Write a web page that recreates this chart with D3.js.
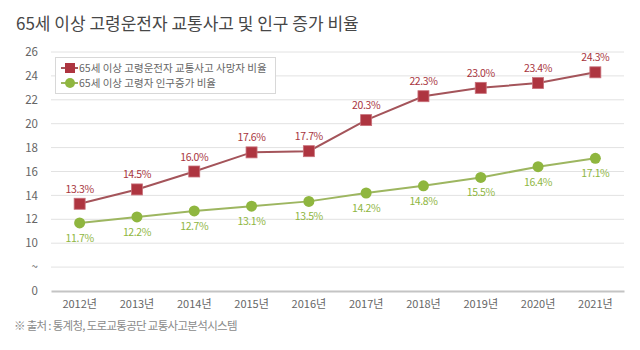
<!DOCTYPE html>
<html>
<head>
<meta charset="utf-8">
<script src="https://cdn.jsdelivr.net/npm/d3@7"></script>
<style>
	body { margin: 0; background: #fff; }
	text { font-family: "Noto Sans CJK KR", "Noto Sans", sans-serif; }
</style>
</head>
<body>
<svg id="chart" width="640" height="350"></svg>
<script>
// data
var years = ["2012년", "2013년", "2014년", "2015년", "2016년", "2017년", "2018년", "2019년", "2020년", "2021년"];
var deathRate = [13.3, 14.5, 16.0, 17.6, 17.7, 20.3, 22.3, 23.0, 23.4, 24.3];
var popRate = [11.7, 12.2, 12.7, 13.1, 13.5, 14.2, 14.8, 15.5, 16.4, 17.1];
var seriesNames = ["65세 이상 고령운전자 교통사고 사망자 비율", "65세 이상 고령자 인구증가 비율"];
// broken axis: 8 is drawn as "~" and 6 as "0"
var yTicks = [6, 8, 10, 12, 14, 16, 18, 20, 22, 24, 26];
var yTickLabels = { 6: "0", 8: "~" };

var titleText = "65세 이상 고령운전자 교통사고 및 인구 증가 비율";
var sourceText = "※ 출처 : 통계청, 도로교통공단 교통사고분석시스템";

var redMark = "#ae3540", redLine = "#a4545a";
var greenMark = "#8fb63f", greenLine = "#9db660";

var margin = { top: 52, right: 16, bottom: 59, left: 51 };
var width = 640, height = 350;

var svg = d3.select("#chart");

var xScale = d3.scaleBand().domain(years).range([margin.left, width - margin.right]);
var yScale = d3.scaleLinear().domain([6, 26]).range([height - margin.bottom, margin.top]);
var cx = function(d, i) { return xScale(years[i]) + xScale.bandwidth() / 2; };

svg.append("text")
	.attr("x", 16).attr("y", 30)
	.attr("font-size", 17).attr("font-weight", 400)
	.attr("fill", "#474747")
	.text(titleText);

// grid lines
svg.append("g").selectAll("line")
	.data(yTicks.filter(function(d) { return d !== 6; }))
	.enter().append("line")
	.attr("x1", margin.left).attr("x2", width - margin.right)
	.attr("y1", function(d) { return yScale(d); })
	.attr("y2", function(d) { return yScale(d); })
	.attr("stroke", "#e2e2e2").attr("stroke-width", 1);

var yAxis = d3.axisLeft(yScale)
	.tickValues(yTicks)
	.tickSize(0).tickPadding(13)
	.tickFormat(function(d) { return yTickLabels[d] !== undefined ? yTickLabels[d] : d; });
var yAxisLine = svg.append("g")
	.attr("transform", "translate(" + margin.left + ",0)")
	.call(yAxis);
yAxisLine.select(".domain").remove();
yAxisLine.selectAll("text").attr("font-size", 11.5).attr("fill", "#666");

var xAxis = d3.axisBottom(xScale).tickSize(0).tickPadding(9);
var xAxisLine = svg.append("g")
	.attr("transform", "translate(0," + yScale(6) + ")")
	.call(xAxis);
xAxisLine.select(".domain").attr("stroke", "#c4c4c4").attr("stroke-width", 2);
xAxisLine.selectAll("text").attr("font-size", 11).attr("fill", "#666");

var line = d3.line()
	.x(cx)
	.y(function(d) { return yScale(d); });

// population series
svg.append("path").datum(popRate)
	.attr("d", line).attr("fill", "none")
	.attr("stroke", greenLine).attr("stroke-width", 2);
svg.append("g").selectAll("circle")
	.data(popRate).enter().append("circle")
	.attr("cx", cx).attr("cy", function(d) { return yScale(d); })
	.attr("r", 5.5).attr("fill", greenMark);
svg.append("g").selectAll("text")
	.data(popRate).enter().append("text")
	.attr("x", cx).attr("y", function(d) { return yScale(d) + 19; })
	.attr("text-anchor", "middle").attr("font-size", 10.5)
	.attr("fill", greenMark).attr("letter-spacing", -0.4)
	.text(function(d) { return d.toFixed(1) + "%"; });

// death rate series
svg.append("path").datum(deathRate)
	.attr("d", line).attr("fill", "none")
	.attr("stroke", redLine).attr("stroke-width", 2);
svg.append("g").selectAll("rect")
	.data(deathRate).enter().append("rect")
	.attr("x", function(d, i) { return cx(d, i) - 5.5; })
	.attr("y", function(d) { return yScale(d) - 5.5; })
	.attr("width", 11).attr("height", 11)
	.attr("fill", redMark).attr("stroke", "#c8707a").attr("stroke-width", 0.8);
svg.append("g").selectAll("text")
	.data(deathRate).enter().append("text")
	.attr("x", cx).attr("y", function(d) { return yScale(d) - 11; })
	.attr("text-anchor", "middle").attr("font-size", 10.5)
	.attr("fill", "#a8353e").attr("letter-spacing", -0.4)
	.text(function(d) { return d.toFixed(1) + "%"; });

// legend
var legend = svg.append("g");
legend.append("rect")
	.attr("x", 55.5).attr("y", 57.5).attr("width", 220).attr("height", 36)
	.attr("fill", "#fff").attr("stroke", "#d8d8d8");
var legendRows = [
	{ name: seriesNames[0], mark: redMark, lineColor: redLine, shape: "rect" },
	{ name: seriesNames[1], mark: greenMark, lineColor: greenLine, shape: "circle" }
];
legendRows.forEach(function(row, i) {
	var ly = 68 + i * 15;
	legend.append("line")
		.attr("x1", 61).attr("x2", 78).attr("y1", ly).attr("y2", ly)
		.attr("stroke", row.lineColor).attr("stroke-width", 2);
	if (row.shape === "rect") {
		legend.append("rect").attr("x", 65).attr("y", ly - 5).attr("width", 10).attr("height", 10).attr("fill", row.mark);
	} else {
		legend.append("circle").attr("cx", 70).attr("cy", ly).attr("r", 5).attr("fill", row.mark);
	}
	legend.append("text")
		.attr("x", 79).attr("y", ly + 4)
		.attr("font-size", 10.5).attr("fill", "#666")
		.text(row.name);
});

svg.append("text")
	.attr("x", 14).attr("y", 330)
	.attr("font-size", 11.5).attr("fill", "#8a8a8a")
	.attr("letter-spacing", -0.7)
	.text(sourceText);
</script>
</body>
</html>
